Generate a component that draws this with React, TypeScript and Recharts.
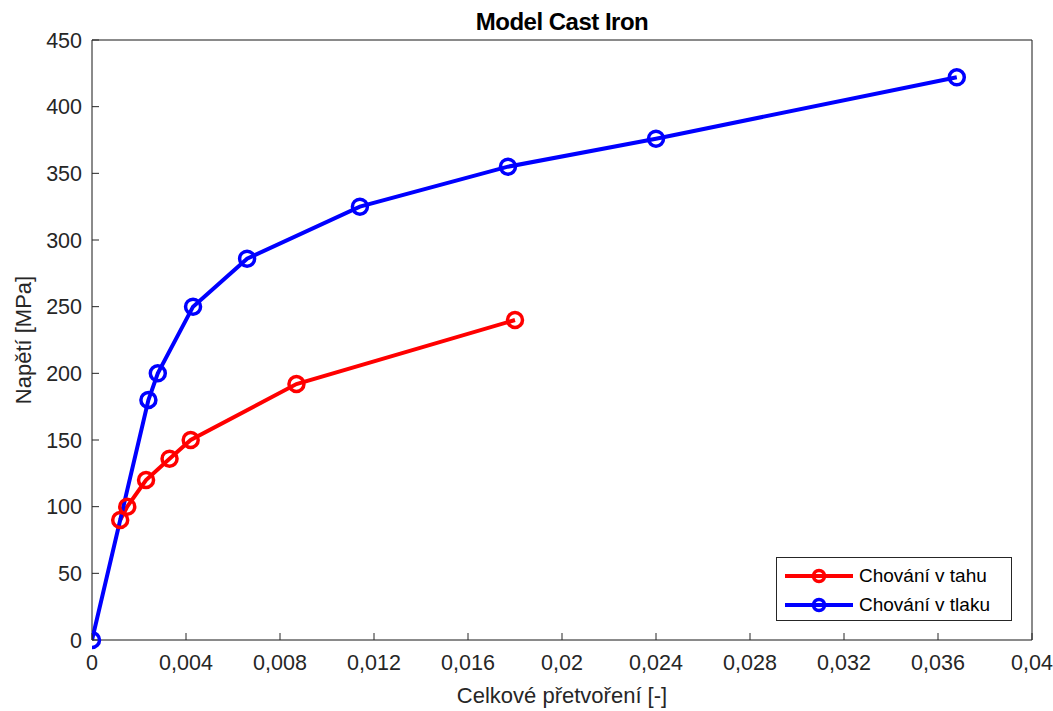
import React from 'react';
import { LineChart, Line, XAxis, YAxis, CartesianGrid } from 'recharts';

const tahStrain = [0.0012, 0.0015, 0.0023, 0.0033, 0.0042, 0.0087, 0.018];
const tahStress = [90, 100, 120, 136, 150, 192, 240];
const tlakStrain = [0, 0.0024, 0.0028, 0.0043, 0.0066, 0.0114, 0.0177, 0.024, 0.0368];
const tlakStress = [0, 180, 200, 250, 286, 325, 355, 376, 422];

const xTicks = [0, 0.004, 0.008, 0.012, 0.016, 0.02, 0.024, 0.028, 0.032, 0.036, 0.04];
const yTicks = [0, 50, 100, 150, 200, 250, 300, 350, 400, 450];

const tahData = tahStrain.map((x, i) => ({ x, y: tahStress[i] }));
const tlakData = tlakStrain.map((x, i) => ({ x, y: tlakStress[i] }));

const FONT = '"Liberation Sans", Arial, Helvetica, sans-serif';
const AXIS = '#262626';
const tickStyle = { fill: AXIS, fontSize: 21.5, fontFamily: FONT };

const fmt = (v: number) => String(Number(v.toFixed(3))).replace('.', ',');

const Ring = (props: any) => {
  const { cx, cy, stroke } = props;
  if (cx == null || cy == null) return null;
  return <circle cx={cx} cy={cy} r={7.5} fill="none" stroke={stroke} strokeWidth={3.5} />;
};

const LegendBox = () => {
  const items = [
    { label: 'Chování v tahu', color: '#ff0000' },
    { label: 'Chování v tlaku', color: '#0000ff' },
  ];
  return (
    <div style={{ position: 'absolute', left: 776, top: 557, border: '1px solid #262626', background: '#fff', width: 236, height: 64, boxSizing: 'border-box', paddingTop: 3 }}>
      {items.map((it) => (
        <div key={it.label} style={{ display: 'flex', alignItems: 'center', height: 29 }}>
          <svg width={72} height={20} style={{ marginLeft: 6 }}>
            <line x1={2} x2={70} y1={10} y2={10} stroke={it.color} strokeWidth={4} />
            <circle cx={36} cy={10} r={5.5} fill="none" stroke={it.color} strokeWidth={3.5} />
          </svg>
          <span style={{ fontFamily: FONT, fontSize: 19, color: '#000', marginLeft: 4 }}>{it.label}</span>
        </div>
      ))}
    </div>
  );
};

const YLabel = () => (
  <text x={23} y={340} transform="rotate(-90 23 340)" textAnchor="middle" dominantBaseline="central" fill={AXIS} fontSize={22} fontFamily={FONT}>
    Napětí [MPa]
  </text>
);

const XLabel = () => (
  <text x={562} y={695} textAnchor="middle" dominantBaseline="central" fill={AXIS} fontSize={22} fontFamily={FONT}>
    Celkové přetvoření [-]
  </text>
);

export default function App() {
  return (
    <div style={{ position: 'absolute', left: 0, top: 0, width: 1053, height: 711, background: '#fff' }}>
      <div style={{ position: 'absolute', left: 92, width: 940, top: 8, textAlign: 'center', fontFamily: FONT, fontWeight: 'bold', fontSize: 24, color: '#000', letterSpacing: -0.5 }}>
        Model Cast Iron
      </div>
      <LineChart width={1053} height={711} margin={{ top: 39, right: 20, bottom: 0, left: 0 }}>
        <CartesianGrid stroke="#dfdfdf" strokeWidth={1} />
        <XAxis
          xAxisId="b"
          dataKey="x"
          type="number"
          domain={[0, 0.04]}
          ticks={xTicks}
          tickFormatter={fmt}
          allowDataOverflow
          stroke={AXIS}
          tick={tickStyle}
          tickSize={-7}
          tickMargin={22}
          height={71}
          label={<XLabel />}
        />
        <XAxis
          xAxisId="t"
          orientation="top"
          dataKey="x"
          type="number"
          domain={[0, 0.04]}
          ticks={xTicks}
          tickFormatter={() => ''}
          stroke={AXIS}
          tickSize={-7}
          height={1}
        />
        <YAxis
          yAxisId="l"
          type="number"
          domain={[0, 450]}
          ticks={yTicks}
          stroke={AXIS}
          tick={tickStyle}
          tickSize={-7}
          tickMargin={17}
          width={92}
          label={<YLabel />}
        />
        <YAxis
          yAxisId="r"
          orientation="right"
          type="number"
          domain={[0, 450]}
          ticks={yTicks}
          tickFormatter={() => ''}
          stroke={AXIS}
          tickSize={-7}
          width={1}
        />
        <Line
          xAxisId="b"
          yAxisId="l"
          data={tahData}
          dataKey="y"
          name="Chování v tahu"
          stroke="#ff0000"
          strokeWidth={4}
          dot={<Ring />}
          activeDot={false}
          isAnimationActive={false}
        />
        <Line
          xAxisId="b"
          yAxisId="l"
          data={tlakData}
          dataKey="y"
          name="Chování v tlaku"
          stroke="#0000ff"
          strokeWidth={4}
          dot={<Ring />}
          activeDot={false}
          isAnimationActive={false}
        />
      </LineChart>
      <LegendBox />
    </div>
  );
}
